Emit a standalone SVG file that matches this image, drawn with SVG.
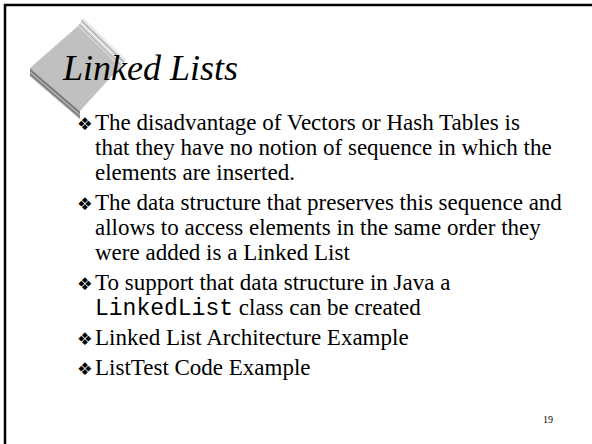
<svg xmlns="http://www.w3.org/2000/svg" width="592" height="444" viewBox="0 0 592 444">
<style>
.body{font-family:"Liberation Serif","Times New Roman",serif;font-size:23px;fill:#000}
.mono{font-family:"Liberation Mono","Courier New",monospace}
.bul{font-family:"DejaVu Sans",sans-serif;font-size:17.5px;fill:#000}
.title{font-family:"Liberation Serif","Times New Roman",serif;font-style:italic;font-size:36px;fill:#000}
.hl{stroke:#f6f6f6;stroke-width:1.1}
.hd{stroke:#a8a8a8;stroke-width:1}
.ll{stroke:#b4b4b4;stroke-width:1.1}
.ld{stroke:#6c6c6c;stroke-width:1}
</style>
<rect width="592" height="444" fill="#fff"/>
<path d="M5 444 V5 H592" fill="none" stroke="#000" stroke-width="2.5"/>
<g id="logo">
<polygon points="78,26 120,67 80,111 30,68" fill="#c0c0c0"/>
<polygon points="78,26 83,18 126,60 120,67" fill="#d2d2d2"/>
<polygon points="30,68 80,111 80,119 30,76" fill="#8e8e8e"/>
<line class="hd" x1="79" y1="24.4" x2="121.2" y2="65.6"/>
<line class="hl" x1="80.2" y1="22.4" x2="122.6" y2="63.8"/>
<line class="hd" x1="81.4" y1="20.6" x2="124" y2="62"/>
<line class="hl" x1="82.5" y1="18.9" x2="125.3" y2="60.6"/>
<line class="ld" x1="30" y1="70" x2="80" y2="113"/>
<line class="ll" x1="30" y1="72" x2="80" y2="115"/>
<line class="ld" x1="30" y1="74" x2="80" y2="117"/>
<line class="ll" x1="30" y1="75.6" x2="80" y2="118.6"/>
</g>
<text class="title" x="63" y="80">Linked Lists</text>
<g class="bul">
<text x="77" y="130">❖</text>
<text x="77" y="210">❖</text>
<text x="77" y="290">❖</text>
<text x="77" y="345">❖</text>
<text x="77" y="375">❖</text>
</g>
<g class="body">
<text x="95" y="130">The disadvantage of Vectors or Hash Tables is</text>
<text x="95" y="155">that they have no notion of sequence in which the</text>
<text x="95" y="180">elements are inserted.</text>
<text x="95" y="210">The data structure that preserves this sequence and</text>
<text x="95" y="235">allows to access elements in the same order they</text>
<text x="95" y="260">were added is a Linked List</text>
<text x="95" y="290">To support that data structure in Java a</text>
<text x="95" y="314.5"><tspan class="mono">LinkedList</tspan> class can be created</text>
<text x="95" y="345">Linked List Architecture Example</text>
<text x="95" y="375">ListTest Code Example</text>
</g>
<text x="543" y="423" style="font-family:'Liberation Serif',serif;font-size:10px">19</text>
</svg>
